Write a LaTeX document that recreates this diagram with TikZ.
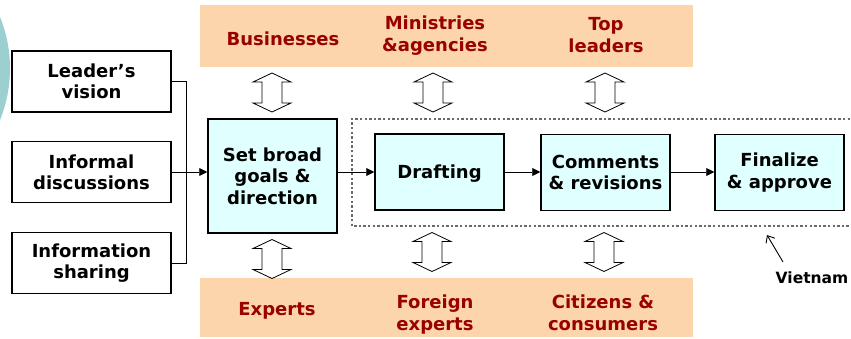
\documentclass[tikz,border=0pt]{standalone}
\usepackage{fontspec}
\setmainfont{DejaVu Sans}
\usepackage{xcolor}
\usetikzlibrary{positioning}
\usetikzlibrary{arrows.meta}
\definecolor{bandorange}{HTML}{FCD5AC}
\definecolor{boxcyan}{HTML}{E0FFFF}
\definecolor{actorred}{HTML}{990000}
\definecolor{sideteal}{HTML}{9CCFCF}
\definecolor{dotgray}{HTML}{6A6A6A}

\begin{document}
\begin{tikzpicture}[x=1pt, y=-1pt,
inputnode/.style={rectangle, draw=black, line width=1.3pt, fill=white, minimum width=159pt, minimum height=61pt, inner sep=0pt, align=center, font=\fontsize{18}{21}\selectfont\bfseries},
stagenode/.style={rectangle, draw=black, line width=1.5pt, fill=boxcyan, minimum width=129pt, minimum height=76pt, inner sep=0pt, align=center, font=\fontsize{18}{21.5}\selectfont\bfseries},
actornode/.style={inner sep=0pt, align=center, text=actorred, font=\fontsize{18}{22}\selectfont\bfseries},
flowline/.style={line width=0.9pt, -{Triangle[length=8pt, width=8pt]}},
twoway/.pic={\draw[line width=0.8pt, fill=white] (0,-19.5) -- (19,-10.5) -- (10,-10.5) -- (10,10.5) -- (19,10.5) -- (0,19.5) -- (-19,10.5) -- (-10,10.5) -- (-10,-10.5) -- (-19,-10.5) -- cycle;},
]
\useasboundingbox (0,0) rectangle (851,338);

%Background
\fill[sideteal] (-127.6,68.5) circle[radius=137.6pt];
\fill[bandorange] (200,5) rectangle (693,67);
\fill[bandorange] (200,278) rectangle (693,337);
\draw[dotgray, line width=2.4pt, dash pattern=on 2.4pt off 2.2pt] (850,119) -| (352,226) -- (850,226);

%Nodes
\node[inputnode]	(vision)	at (91.5,81.5)	{Leader’s\\vision};
\node[inputnode]	(talks)		at (91.5,172)	{Informal\\discussions};
\node[inputnode]	(sharing)	at (91.5,263)	{Information\\sharing};
\node[stagenode, minimum height=114pt]	(goals)	at (272.5,176)	{Set broad\\goals \&\\direction};
\node[stagenode, text depth=0pt]	(draft)		at (439.5,172)	{Drafting};
\node[stagenode]	(comments)	at (605.5,172.5)	{Comments\\\& revisions};
\node[stagenode]	(approve)	at (779.5,172.5)	{Finalize\\\& approve};

\node[actornode]	(biz)		at (283,38.5)	{Businesses};
\node[actornode]	(ministry)	at (435,36)		{Ministries\\\&agencies};
\node[actornode]	(leaders)	at (606,35)		{Top\\leaders};
\node[actornode]	(experts)	at (277,310.5)	{Experts};
\node[actornode]	(foreign)	at (435,315)	{Foreign\\experts};
\node[actornode]	(citizens)	at (603,313)	{Citizens \&\\consumers};

\node[font=\fontsize{15.5}{17}\selectfont\bfseries]	(vn)	at (812,277.5)	{Vietnam};
\coordinate	(vntail)	at (783,262);
\coordinate	(vntip)		at (767,235);

%Double arrows
\pic at (272,92.5) {twoway};
\pic at (433,92.5) {twoway};
\pic at (605,92.5) {twoway};
\pic at (272,259) {twoway};
\pic at (432,252) {twoway};
\pic at (604,252) {twoway};

%Lines
\draw[line width=0.9pt] (vision.east) -- ++(15,0) |- (sharing.east);
\draw[flowline] (talks.east) -- (goals.west |- talks.east);
\draw[flowline] (goals.east |- draft.west) -- (draft.west);
\draw[flowline] (draft.east) -- (comments.west |- draft.east);
\draw[flowline] (comments.east |- draft.east) -- (approve.west |- draft.east);
\draw[line width=0.9pt, -{Straight Barb[length=6pt, width=10pt]}] (vntail) -- (vntip);
\end{tikzpicture}
\end{document}
